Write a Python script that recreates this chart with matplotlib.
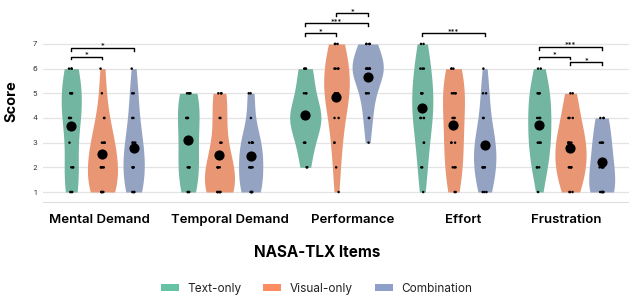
import numpy as np
import pandas as pd
import matplotlib
matplotlib.use("Agg")
import matplotlib.pyplot as plt
from matplotlib.patches import Patch
import seaborn as sns

items = ["Mental Demand", "Temporal Demand", "Performance", "Effort", "Frustration"]
conditions = ["Text-only", "Visual-only", "Combination"]
colors = ["#66c2a5", "#fc8d62", "#8da0cb"]
scores = [1, 2, 3, 4, 5, 6, 7]

# counts of participants per score (1..7) for each item / condition
mental_text = [3, 3, 1, 4, 4, 3, 0]
mental_visual = [5, 5, 4, 2, 1, 1, 0]
mental_comb = [4, 5, 4, 2, 2, 1, 0]
temporal_text = [3, 4, 3, 4, 4, 0, 0]
temporal_visual = [6, 5, 2, 2, 3, 0, 0]
temporal_comb = [5, 5, 5, 1, 2, 0, 0]
perf_text = [0, 2, 3, 7, 3, 3, 0]
perf_visual = [1, 1, 2, 2, 5, 4, 3]
perf_comb = [0, 0, 1, 2, 3, 8, 4]
effort_text = [1, 2, 2, 4, 4, 3, 2]
effort_visual = [2, 3, 3, 3, 4, 3, 0]
effort_comb = [3, 5, 5, 2, 2, 1, 0]
frus_text = [1, 3, 4, 4, 4, 2, 0]
frus_visual = [3, 5, 5, 3, 2, 0, 0]
frus_comb = [6, 5, 4, 3, 0, 0, 0]

counts = {
    "Mental Demand": [mental_text, mental_visual, mental_comb],
    "Temporal Demand": [temporal_text, temporal_visual, temporal_comb],
    "Performance": [perf_text, perf_visual, perf_comb],
    "Effort": [effort_text, effort_visual, effort_comb],
    "Frustration": [frus_text, frus_visual, frus_comb],
}

# tick label positions as laid out in the reference (category units)
label_pos = [-0.03, 1.09, 2.14, 3.08, 3.96]

# significance brackets: (item, cond_a, cond_b, y, label)
sig_item = ["Mental Demand", "Mental Demand", "Performance", "Performance", "Performance",
            "Effort", "Frustration", "Frustration", "Frustration"]
sig_a = [0, 0, 0, 0, 1, 0, 0, 0, 1]
sig_b = [1, 2, 1, 2, 2, 2, 1, 2, 2]
sig_y = [6.49, 6.85, 7.43, 7.84, 8.24, 7.43, 6.49, 6.89, 6.26]
sig_lab = ["*", "*", "*", "***", "*", "***", "*", "***", "*"]

rows = []
for item in items:
    for ci, cond in enumerate(conditions):
        for s, n in zip(scores, counts[item][ci]):
            rows += [(item, cond, s)] * n
df = pd.DataFrame(rows, columns=["Item", "Condition", "Score"])

plt.rcParams["font.family"] = ["Inter", "DejaVu Sans"]

fig = plt.figure(figsize=(6.29, 3.0), dpi=100)
ax = fig.add_axes([0.068, 0.327, 0.932, 0.673])

sns.violinplot(data=df, x="Item", y="Score", hue="Condition", order=items,
               hue_order=conditions, palette=colors, cut=0, inner=None,
               linewidth=0, ax=ax, legend=False)
np.random.seed(3)
sns.stripplot(data=df, x="Item", y="Score", hue="Condition", order=items,
              hue_order=conditions, palette=["black"] * 3, dodge=True,
              jitter=0.06, size=1.8, ax=ax, legend=False)
sns.pointplot(data=df, x="Item", y="Score", hue="Condition", order=items,
              hue_order=conditions, palette=["black"] * 3, dodge=0.8 - 0.8 / 3,
              linestyle="none", errorbar=None, markers="o", markersize=5.3,
              ax=ax, legend=False)

off = 0.8 / 3
for it, a, b, y, lab in zip(sig_item, sig_a, sig_b, sig_y, sig_lab):
    g = items.index(it)
    xa = g + (a - 1) * off
    xb = g + (b - 1) * off
    ax.plot([xa, xa, xb, xb], [y - 0.12, y, y, y - 0.12], color="black", lw=1.0)
    ax.text((xa + xb) / 2, y - 0.02, lab, ha="center", va="bottom", fontsize=5.5)

ax.set_xlim(-0.51, 4.5)
ax.set_ylim(0.6, 8.78)
ax.set_yticks([1, 2, 3, 4, 5, 6, 7])
ax.set_xticks(label_pos)
ax.set_xticklabels(items)
ax.yaxis.grid(True, color="#e3e3e3", lw=0.9)
ax.set_axisbelow(True)
for sp in ["top", "right", "left"]:
    ax.spines[sp].set_visible(False)
ax.spines["bottom"].set_color("#dddddd")
ax.tick_params(axis="y", length=0, labelsize=5.5, labelcolor="#333333", pad=4)
ax.tick_params(axis="x", length=0, labelsize=9.5, pad=9)
for t in ax.get_xticklabels():
    t.set_fontweight("semibold")
ax.set_ylabel("Score", fontsize=10.5, fontweight="bold", labelpad=10)
ax.set_xlabel("NASA-TLX Items", fontsize=11, fontweight="bold")
ax.xaxis.set_label_coords((317.5 - 43) / 586, -0.215)

handles = [Patch(facecolor=c, edgecolor="none") for c in colors]
fig.legend(handles, conditions, loc="center", bbox_to_anchor=(0.503, 0.037), ncol=3,
           frameon=False, fontsize=8.5, handlelength=1.5, handleheight=0.55,
           columnspacing=1.9, handletextpad=0.7, labelcolor="#222222")

fig.savefig("out.png", dpi=100)
